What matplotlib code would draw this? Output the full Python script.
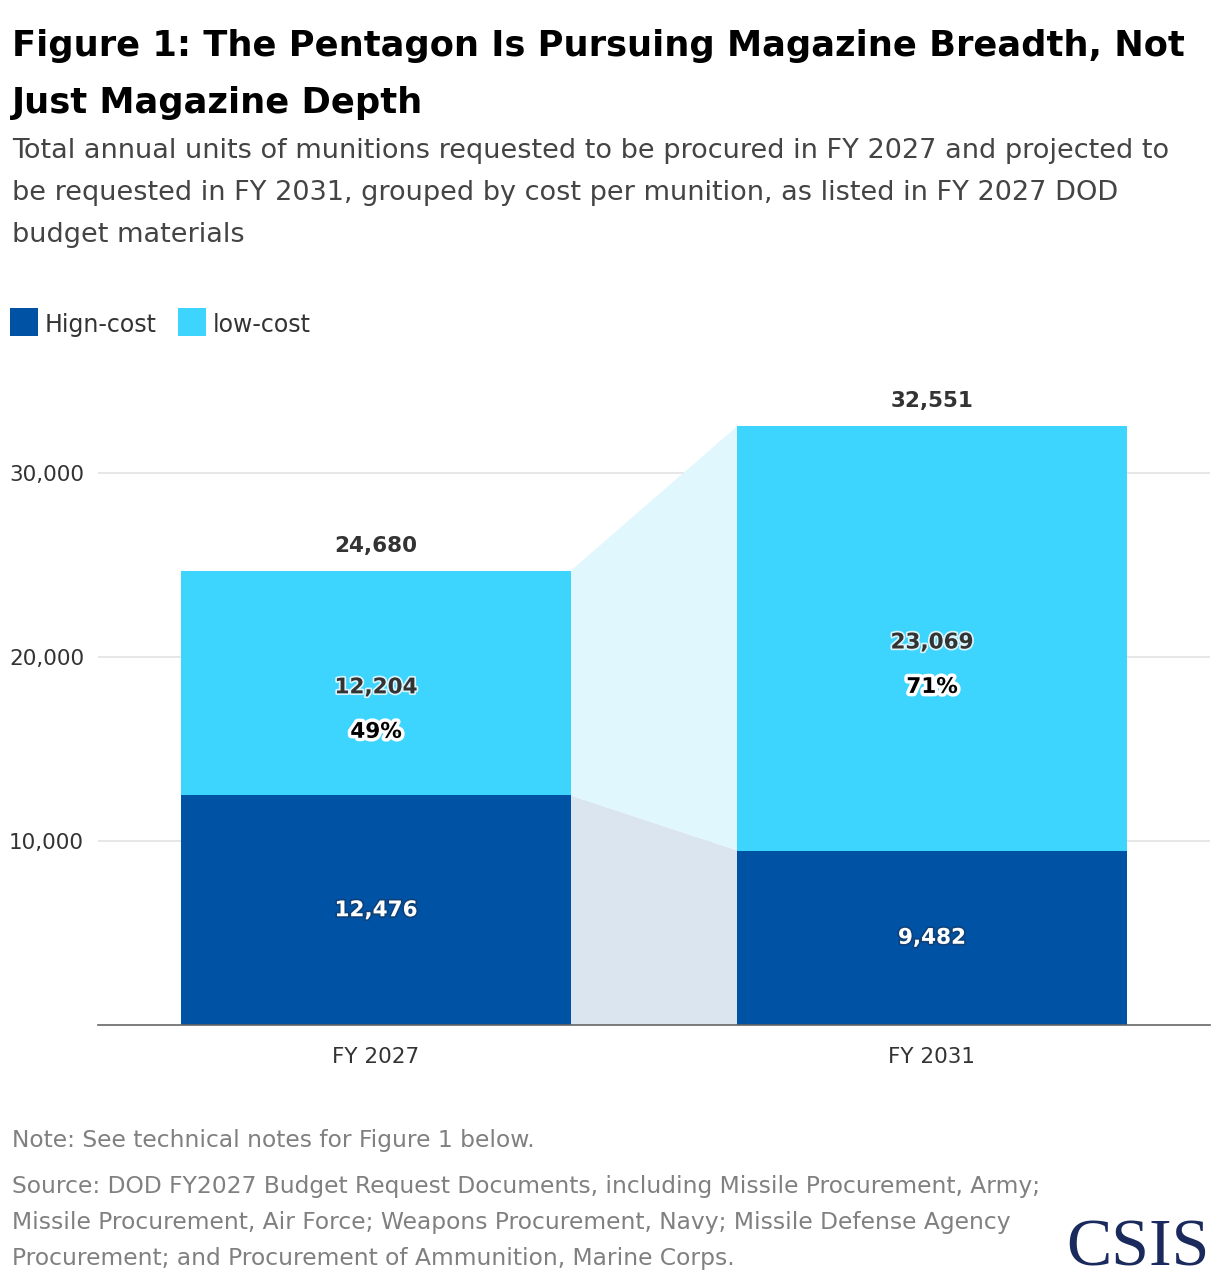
import matplotlib
matplotlib.use("Agg")
import matplotlib.pyplot as plt
import matplotlib.patheffects as pe
from matplotlib.patches import Rectangle, Polygon

# ---- data ----
categories = ["FY 2027", "FY 2031"]
high_cost = [12476, 9482]
low_cost = [12204, 23069]
totals = [24680, 32551]
low_share = ["49%", "71%"]
yticks = [10000, 20000, 30000]
ytick_labels = ["10,000", "20,000", "30,000"]
legend_labels = ["Hign-cost", "low-cost"]

HIGH = "#0053a4"
LOW = "#3dd4fe"
LOW_CONN = "#e0f7fe"
HIGH_CONN = "#dbe5f0"

W, H = 1220, 1282
fig = plt.figure(figsize=(W / 100, H / 100), dpi=100)
FONT = "DejaVu Sans"
plt.rcParams['font.family'] = [FONT]

def fx(px):
    return px / W

def fy(py):
    return 1 - py / H

ax = fig.add_axes([fx(98), fy(1025), fx(1210 - 98), fy(381) - fy(1025)])
ax.set_xlim(-0.5, 1.5)
ax.set_ylim(0, 35000)

bw = 0.70
x = list(range(len(categories)))

# connectors
hb = bw / 2
ax.add_patch(Polygon([(x[0] + hb, 0), (x[0] + hb, high_cost[0]),
                      (x[1] - hb, high_cost[1]), (x[1] - hb, 0)],
                     closed=True, facecolor=HIGH_CONN, edgecolor="none", zorder=1))
ax.add_patch(Polygon([(x[0] + hb, high_cost[0]), (x[0] + hb, totals[0]),
                      (x[1] - hb, totals[1]), (x[1] - hb, high_cost[1])],
                     closed=True, facecolor=LOW_CONN, edgecolor="none", zorder=1))

ax.bar(x, high_cost, width=bw, color=HIGH, zorder=2)
ax.bar(x, low_cost, width=bw, bottom=high_cost, color=LOW, zorder=2)

ax.set_yticks(yticks)
ax.set_yticklabels(ytick_labels)
ax.grid(axis="y", color="#e3e3e3", linewidth=1.2, zorder=0)
ax.set_axisbelow(True)
ax.set_xticks(x)
ax.set_xticklabels(categories)
ax.tick_params(axis="both", length=0, labelsize=15.5, colors="#333333")
ax.tick_params(axis="x", pad=16)
ax.tick_params(axis="y", pad=10)
for s in ["top", "right", "left"]:
    ax.spines[s].set_visible(False)
ax.spines["bottom"].set_color("#666666")
ax.spines["bottom"].set_linewidth(1.2)

halo = [pe.withStroke(linewidth=2.5, foreground="white", alpha=0.8)]
halo_strong = [pe.withStroke(linewidth=5, foreground="white")]
shadow = [pe.withStroke(linewidth=2.5, foreground="#123d70", alpha=0.8)]

for i in x:
    # high-cost values
    ax.text(x[i], high_cost[i] / 2, f"{high_cost[i]:,}", ha="center", va="center",
            fontsize=15.5, fontweight="bold", color="white", path_effects=shadow, zorder=5)
    # low-cost values
    mid = high_cost[i] + low_cost[i] / 2
    ax.annotate(f"{low_cost[i]:,}", (x[i], mid), xytext=(0, -3), textcoords="offset points",
                ha="center", va="center", fontsize=15.5, fontweight="bold", color="#333333",
                path_effects=halo, zorder=5)
    ax.annotate(low_share[i], (x[i], mid), xytext=(0, -35), textcoords="offset points",
                ha="center", va="center", fontsize=15.5, fontweight="bold", color="black",
                path_effects=halo_strong, zorder=5)
    # totals
    ax.annotate(f"{totals[i]:,}", (x[i], totals[i]), xytext=(0, 18), textcoords="offset points",
                ha="center", va="center", fontsize=15.5, fontweight="bold", color="#333333",
                zorder=5, annotation_clip=False)

# title
fig.text(fx(12), fy(46), "Figure 1: The Pentagon Is Pursuing Magazine Breadth, Not",
         fontsize=25.4, fontweight="bold", color="black", va="center", ha="left")
fig.text(fx(12), fy(103), "Just Magazine Depth",
         fontsize=25.4, fontweight="bold", color="black", va="center", ha="left")
sub = ["Total annual units of munitions requested to be procured in FY 2027 and projected to",
       "be requested in FY 2031, grouped by cost per munition, as listed in FY 2027 DOD",
       "budget materials"]
for k, line in enumerate(sub):
    fig.text(fx(12), fy(151 + 42 * k), line, fontsize=19.5, color="#444444",
             va="center", ha="left")

# legend
leg_colors = [HIGH, LOW]
leg_x = [10, 178]
for lc, lx, lab in zip(leg_colors, leg_x, legend_labels):
    fig.patches.append(Rectangle((fx(lx), fy(336)), fx(28), fy(308) - fy(336),
                                 transform=fig.transFigure, facecolor=lc, edgecolor="none"))
    fig.text(fx(lx + 35), fy(325), lab, fontsize=17, color="#333333", va="center", ha="left")

# notes
fig.text(fx(12), fy(1140), "Note: See technical notes for Figure 1 below.",
         fontsize=16.8, color="#808080", va="center", ha="left")
src = ["Source: DOD FY2027 Budget Request Documents, including Missile Procurement, Army;",
       "Missile Procurement, Air Force; Weapons Procurement, Navy; Missile Defense Agency",
       "Procurement; and Procurement of Ammunition, Marine Corps."]
for k, line in enumerate(src):
    fig.text(fx(12), fy(1187 + 36 * k), line, fontsize=16.8, color="#808080",
             va="center", ha="left")

fig.text(fx(1210), fy(1249), "CSIS", fontsize=49, family="Liberation Serif",
         color="#1b2a5c", va="center", ha="right")

fig.savefig("out.png", dpi=100, facecolor="white")
